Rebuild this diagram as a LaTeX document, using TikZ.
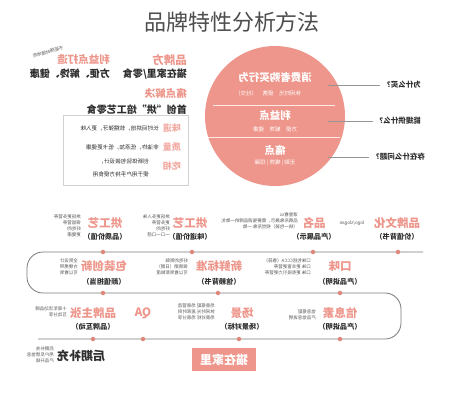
\documentclass[tikz,border=0pt]{standalone}
\usepackage{fontspec}
\setmainfont{Noto Sans CJK SC}
\definecolor{pk}{HTML}{EE968B}
\definecolor{pkl}{HTML}{F2ABA2}
\definecolor{dotc}{HTML}{E0877C}
\definecolor{tx}{HTML}{2E2E2E}
\definecolor{sm}{HTML}{555555}
\definecolor{ln}{HTML}{7A7A7A}
\begin{document}
\begin{tikzpicture}[x=1pt,y=-1pt,
  mir/.style={xscale=-1, inner sep=0pt},
  head/.style={mir, text=pk, font=\fontsize{11.5}{12}\selectfont\bfseries},
  blk/.style={mir, text=tx, font=\fontsize{10}{11}\selectfont\bfseries},
  paren/.style={mir, text=tx, font=\fontsize{7.2}{8}\selectfont\bfseries},
  tiny/.style={mir, text=sm, align=left, font=\fontsize{4.5}{6}\selectfont},
  desc/.style={mir, text=tx, align=left, font=\fontsize{5.6}{12}\selectfont},
  boxlab/.style={mir, text=pkl, font=\fontsize{9}{10}\selectfont\bfseries},
  wt/.style={mir, text=white, font=\fontsize{10.5}{11}\selectfont\bfseries},
  wts/.style={mir, text=white, font=\fontsize{5.5}{6}\selectfont},
  qlab/.style={mir, anchor=west, text=tx, font=\fontsize{7.5}{8}\selectfont\bfseries},
  tline/.style={draw=ln, line width=0.8pt, rounded corners=16pt},
  dotn/.style={circle, fill=dotc, inner sep=0pt, minimum size=4.5pt},
  gline/.style={draw=ln!80, line width=0.7pt}]
\useasboundingbox (0,0) rectangle (464,400);
\fill[white] (0,0) rectangle (464,400);

% title
\node[text=tx!85, font=\fontsize{22}{24}\selectfont] (title) at (232,22) {品牌特性分析方法};

% ---- top-left block
\node[head, anchor=west] (brand) at (187,60) {品牌方};
\node[head, anchor=west, font=\fontsize{10.5}{11}\selectfont\bfseries] (benefit) at (110,60) {利益点打造};
\node[mir, rotate=-15, text=sm, font=\fontsize{4.5}{5}\selectfont] (anytime) at (48,52) {不能随时随地吃};
\node[blk, anchor=west] (home) at (187,74) {猫在家里/零食};
\node[blk, anchor=west] (conv) at (110,74) {方便、解馋、健康};
\node[head, anchor=west, font=\fontsize{10.5}{11}\selectfont\bfseries] (pain) at (187,93) {痛点解决};
\node[blk, anchor=west] (first) at (187,110) {首创“烘”焙工艺零食};

\node[draw=black!18, fill=white, minimum width=125pt, minimum height=70pt, inner sep=0pt] (panel) at (125.5,150) {};
\node[boxlab, anchor=west] (taste) at (181,128) {味道};
\node[desc, anchor=west] (tasted) at (159,128) {长时间烘焙，软糯弹牙，更入味};
\node[boxlab, anchor=west] (qual) at (181,147) {质量};
\node[desc, anchor=west] (quald) at (159,147) {非油炸，低添加，低卡更健康};
\node[boxlab, anchor=west] (eat) at (181,166) {吃相};
\node[desc, anchor=west, font=\fontsize{5.6}{13}\selectfont] (eatd) at (149,168) {创新体验包装设计，\\便于用户手持方便食用};

% ---- circle
\node[circle, fill=pk, minimum size=140pt, inner sep=0pt] (circ) at (275,116) {};
\coordinate (d1a) at (213,105); \coordinate (d1b) at (335,105);
\coordinate (d2a) at (208,137); \coordinate (d2b) at (340,137);
\draw[white!80!pk, line width=0.6pt] (d1a) -- (d1b);
\draw[white!80!pk, line width=0.6pt] (d2a) -- (d2b);
\node[wt] (behav) at (275,78) {消费者购买行为};
\node[wts] (behavs) at (268,93) {休闲时光\quad 便携\quad （社交）};
\node[wt] (benc) at (275,115) {利益点};
\node[wts] (bencs) at (275,129) {方便\quad 解馋\quad 健康};
\node[wt] (painc) at (275,150) {痛点};
\node[wts] (paincs) at (275,163) {无聊 | 嘴馋 | 烦躁};

\node[qlab] (q1) at (421,85) {为什么买？};
\node[qlab] (q2) at (421,121) {能提供什么？};
\node[qlab] (q3) at (425,157) {存在什么问题？};
\coordinate (q1s) at (328,85);
\coordinate (q2s) at (328,121);
\coordinate (q3s) at (328,157);
\draw[gline] (q1s) -- ([xshift=-3pt]q1.east);
\draw[gline] (q2s) -- ([xshift=-3pt]q2.east);
\draw[gline] (q3s) -- ([xshift=-3pt]q3.east);

% ---- timeline
\coordinate (t0) at (423,252);
\coordinate (t1) at (27,252);
\coordinate (t2) at (27,293);
\coordinate (t3) at (401,293);
\coordinate (t4) at (401,339);
\coordinate (t5) at (38,339);
\draw[tline] (t0) -- (t1) -- (t2) -- (t3) -- (t4) -- (t5);

% row 1
\node[head] (h1) at (105,223) {烘工艺};
\node[paren] (p1) at (105,237) {（品质价值）};
\node[tiny, anchor=north west] (s1) at (81,214) {烘焙更多营养\\保留营养\\好吃的\\更健康};
\node[head] (h2) at (190,223) {烘工艺};
\node[paren] (p2) at (190,237) {（味道价值）};
\node[tiny, anchor=north west] (s2) at (170,214) {烘焙更多入味\\更多营养\\好吃的\\一口一口感};
\node[tiny, anchor=north west] (s3) at (298,213) {请查看ss\\品牌形象展示，需要强调品牌的一致化\\（统一包装）视觉形象 一致};
\node[head] (h3) at (314,223) {品名};
\node[paren] (p3) at (314,237) {（产品展示）};
\node[tiny] (logo) at (352,223) {logo/slogan};
\node[head] (h4) at (397,223) {品牌文化};
\node[paren] (p4) at (397,237) {（价值背书）};
\node[dotn] (r1a) at (103,252) {};
\node[dotn] (r1b) at (192,252) {};
\node[dotn] (r1c) at (313,252) {};
\node[dotn] (r1d) at (398,252) {};

% row 2
\node[head] (h5) at (104,266) {包装创新};
\node[paren] (p5) at (104,282) {（颜值担当）};
\node[tiny, anchor=north west] (s5) at (78,258) {全新设计\\方便携带\\可以看到};
\node[head] (h6) at (219,266) {新鲜标准};
\node[paren] (p6) at (219,282) {（信赖背书）};
\node[tiny, anchor=north west] (s6) at (188,258) {好吃的新鲜\\保质期（日期）\\可以看到新鲜度};
\node[head] (h7) at (340,266) {口味};
\node[paren] (p7) at (340,282) {（产品说明）};
\node[tiny, anchor=north west] (s7) at (311,258) {口味包括CCCA（香蒜）\\口味 更丰富更营养\\口味 更有吸引力更营养};
\node[dotn] (r2a) at (103,293) {};
\node[dotn] (r2b) at (218,293) {};
\node[dotn] (r2c) at (340,293) {};

% row 3
\node[head] (h8) at (93,313) {品牌主张};
\node[paren] (p8) at (93,327) {（品牌互动）};
\node[tiny, anchor=north west] (s8) at (67,306) {十周年活动品牌\\互动分享};
\node[head] (h9) at (143,313) {QA};
\node[tiny, anchor=north west] (s9) at (215,304) {场景搭配 场景营造\\休闲时光 居家时刻\\场景对标 场景分享};
\node[head] (h10) at (242,313) {场景};
\node[paren] (p10) at (242,327) {（场景对标）};
\node[tiny, anchor=north west] (s11) at (316,309) {信息搭配\\产品信息说明};
\node[head] (h11) at (340,313) {信息素};
\node[paren] (p11) at (340,327) {（产品说明）};
\node[dotn] (r3a) at (93,339) {};
\node[dotn] (r3b) at (143,339) {};
\node[dotn] (r3c) at (239,339) {};
\node[dotn] (r3d) at (340,339) {};

% bottom
\node[mir, text=tx, font=\fontsize{12}{13}\selectfont\bfseries] (later) at (81,356) {后期补充};
\node[tiny, anchor=north west] (s12) at (54,346) {后期补充\\用户反馈信息\\产品升级};
\node[fill=pk, minimum width=64pt, minimum height=23pt, inner sep=0pt] (homebox) at (224,359.5) {};
\node[mir, text=white, font=\fontsize{12}{13}\selectfont\bfseries] (homet) at (224,359.5) {猫在家里};
\end{tikzpicture}
\end{document}
